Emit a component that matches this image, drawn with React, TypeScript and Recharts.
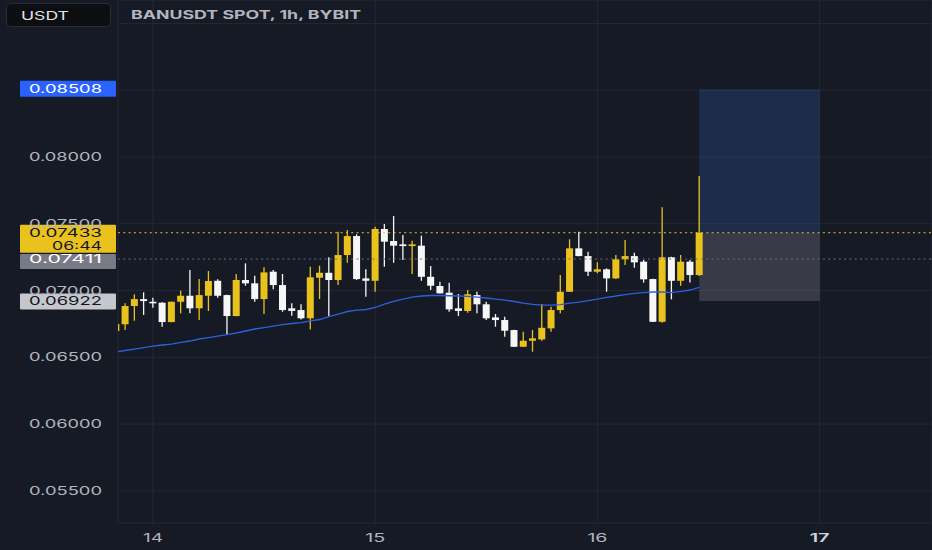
import {
  ComposedChart,
  Bar,
  Line,
  XAxis,
  YAxis,
  CartesianGrid,
  ReferenceLine,
  ReferenceArea,
} from "recharts";

// hours counted from the 14th 00:00 (1h candles)
const hours = [
  -4, -3, -2, -1, 0, 1, 2, 3, 4, 5, 6, 7, 8, 9, 10, 11, 12, 13, 14, 15, 16, 17,
  18, 19, 20, 21, 22, 23, 24, 25, 26, 27, 28, 29, 30, 31, 32, 33, 34, 35, 36,
  37, 38, 39, 40, 41, 42, 43, 44, 45, 46, 47, 48, 49, 50, 51, 52, 53, 54, 55,
  56, 57, 58, 59,
];
const opens = [
  0.06697, 0.06747, 0.06884, 0.06936, 0.06916, 0.06909, 0.06764, 0.06916,
  0.06961, 0.06867, 0.06961, 0.07073, 0.06966, 0.06809, 0.07079, 0.07054,
  0.06936, 0.07141, 0.07041, 0.06867, 0.06854, 0.06792, 0.07096, 0.07133,
  0.07079, 0.07266, 0.07408, 0.07091, 0.07073, 0.07461, 0.07371, 0.07346,
  0.07333, 0.07336, 0.07103, 0.07034, 0.06984, 0.06867, 0.06847, 0.06966,
  0.06897, 0.06799, 0.06779, 0.06704, 0.06579, 0.06624, 0.06634, 0.06717,
  0.06854, 0.06991, 0.07316, 0.07258, 0.07141, 0.07159, 0.07091, 0.07234,
  0.07258, 0.07216, 0.07086, 0.06766, 0.07249, 0.07073, 0.07216, 0.07116,
];
const highs = [
  0.06752, 0.06904, 0.06972, 0.06987, 0.06946, 0.06912, 0.06918, 0.06999,
  0.07154, 0.07086, 0.07146, 0.07084, 0.06968, 0.07124, 0.07204, 0.07111,
  0.07174, 0.07154, 0.07124, 0.06904, 0.06897, 0.07179, 0.07186, 0.07249,
  0.07441, 0.07453, 0.07421, 0.07159, 0.07478, 0.07498, 0.07558, 0.07416,
  0.07373, 0.07411, 0.07184, 0.07066, 0.07059, 0.06974, 0.07004, 0.06991,
  0.06916, 0.06824, 0.06804, 0.06706, 0.06691, 0.06704, 0.06899, 0.06879,
  0.07116, 0.07384, 0.07441, 0.07291, 0.07211, 0.07166, 0.07266, 0.07378,
  0.07283, 0.07229, 0.07088, 0.07623, 0.07253, 0.07266, 0.07229, 0.07858,
];
const lows = [
  0.06694, 0.06704, 0.06774, 0.06817, 0.06871, 0.06729, 0.06762, 0.06829,
  0.06829, 0.06779, 0.06847, 0.06946, 0.06672, 0.06807, 0.07036, 0.06916,
  0.06824, 0.07009, 0.06841, 0.06811, 0.06784, 0.06709, 0.06936, 0.06809,
  0.07041, 0.07208, 0.07079, 0.06954, 0.06991, 0.07178, 0.07208, 0.07229,
  0.07124, 0.07073, 0.07004, 0.06977, 0.06841, 0.06809, 0.06834, 0.06829,
  0.06779, 0.06729, 0.06654, 0.06577, 0.06577, 0.06542, 0.06624, 0.06691,
  0.06829, 0.06989, 0.07256, 0.07109, 0.07129, 0.06991, 0.07086, 0.07191,
  0.07171, 0.07059, 0.06764, 0.06759, 0.06934, 0.07036, 0.07061, 0.07109,
];
const closes = [
  0.06749, 0.06884, 0.06936, 0.06921, 0.06904, 0.06764, 0.06916, 0.06961,
  0.06867, 0.06966, 0.07071, 0.06961, 0.06809, 0.07079, 0.07054, 0.06936,
  0.07136, 0.07041, 0.06854, 0.06847, 0.06792, 0.07099, 0.07133, 0.07079,
  0.07266, 0.07408, 0.07086, 0.07073, 0.07461, 0.07366, 0.07336, 0.07333,
  0.07346, 0.07103, 0.07036, 0.06979, 0.06859, 0.06847, 0.06972, 0.06897,
  0.06792, 0.06779, 0.06699, 0.06579, 0.06624, 0.06642, 0.06721, 0.06854,
  0.06991, 0.07316, 0.07258, 0.07141, 0.07159, 0.07091, 0.07234, 0.07258,
  0.07211, 0.07084, 0.06766, 0.07249, 0.07073, 0.07216, 0.07116, 0.07433,
];
const emaValues = [
  0.0654, 0.06551, 0.06562, 0.06573, 0.06584, 0.06592, 0.06599, 0.06611,
  0.06622, 0.06637, 0.06648, 0.06659, 0.0667, 0.06682, 0.06697, 0.06712,
  0.06723, 0.06734, 0.06745, 0.06753, 0.0676, 0.06772, 0.06783, 0.06805,
  0.06824, 0.06843, 0.06854, 0.06858, 0.06873, 0.06899, 0.06918, 0.06936,
  0.06951, 0.06959, 0.06963, 0.06963, 0.06961, 0.06959, 0.06957, 0.06951,
  0.06944, 0.06936, 0.06929, 0.06918, 0.06906, 0.06897, 0.06891, 0.06891,
  0.06895, 0.06906, 0.06914, 0.06925, 0.06936, 0.06948, 0.06959, 0.06969,
  0.06978, 0.06985, 0.06989, 0.06989, 0.06985, 0.06993, 0.07004, 0.07023,
];

const dayTicks = [0, 24, 48, 72];
const dayLabels = ["14", "15", "16", "17"];
const priceTicks = [0.055, 0.06, 0.065, 0.07, 0.075, 0.08, 0.085, 0.09];
const hiddenPriceTicks = [0.085, 0.09];

// long position tool + price marks
const entryPrice = 0.07433;
const targetPrice = 0.08508;
const stopPrice = 0.06922;
const positionStart = 59;
const positionEnd = 72;
const markLine = 0.07236;
const markLabel = "0.07411";
const countdown = "06:44";

const BG = "#161a25";
const GRID = "#242833";
const TEXT = "#b2b5be";
const YELLOW = "#e9c21d";
const WHITE = "#f7f7f7";
const FONT = "Inter, Roboto, sans-serif";

const data = hours.map((h, i) => ({
  hour: h,
  open: opens[i],
  high: highs[i],
  low: lows[i],
  close: closes[i],
  ema: emaValues[i],
}));

const Candle = (props: any) => {
  const { x, y, width, height, payload } = props;
  const { open, close, high, low } = payload;
  const color = close >= open ? YELLOW : WHITE;
  const top = Math.min(y, y + height);
  const h = Math.abs(height);
  const toY = (v: number) => top + ((high - v) / (high - low)) * h;
  const cx = x + width / 2;
  const bTop = toY(Math.max(open, close));
  const bBot = toY(Math.min(open, close));
  return (
    <g>
      <line x1={cx} x2={cx} y1={top} y2={top + h} stroke={color} strokeWidth={1.3} />
      <rect x={x} y={bTop} width={width} height={Math.max(bBot - bTop, 1.6)} fill={color} />
    </g>
  );
};

const PriceTick = (props: any) => {
  const { y, payload } = props;
  if (hiddenPriceTicks.includes(payload.value)) return <g />;
  return (
    <text
      x={29}
      y={y}
      dominantBaseline="central"
      fill={TEXT}
      fontSize={11.5}
      fontFamily={FONT}
      textLength={73}
      lengthAdjust="spacingAndGlyphs"
    >
      {payload.value.toFixed(5)}
    </text>
  );
};

const DayTick = (props: any) => {
  const { x, payload, index } = props;
  const last = index === dayLabels.length - 1;
  return (
    <text
      x={x}
      y={538}
      textAnchor="middle"
      dominantBaseline="central"
      fill={last ? "#d1d4dc" : TEXT}
      fontWeight={last ? 600 : 400}
      fontSize={11.5}
      fontFamily={FONT}
      textLength={20}
      lengthAdjust="spacingAndGlyphs"
    >
      {dayLabels[dayTicks.indexOf(payload.value)]}
    </text>
  );
};

const tag = (text: string, bg: string, fg: string, up: number, down: number, extra?: string) =>
  (props: any) => {
    const vy = props.viewBox ? props.viewBox.y : 0;
    return (
      <g>
        <rect x={20} y={vy - up} width={96} height={up + down} fill={bg} rx={1} />
        <text
          x={29}
          y={vy}
          dominantBaseline="central"
          fill={fg}
          fontSize={11.5}
          fontFamily={FONT}
          textLength={73}
          lengthAdjust="spacingAndGlyphs"
        >
          {text}
        </text>
        {extra ? (
          <text
            x={52}
            y={vy + 13}
            dominantBaseline="central"
            fill={fg}
            fontSize={11.5}
            fontFamily={FONT}
            textLength={50}
            lengthAdjust="spacingAndGlyphs"
          >
            {extra}
          </text>
        ) : null}
      </g>
    );
  };

export default function App() {
  return (
    <div
      style={{
        position: "fixed",
        left: 0,
        top: 0,
        width: 932,
        height: 550,
        background: BG,
        overflow: "hidden",
      }}
    >
      <ComposedChart width={932} height={550} data={data} margin={{ top: 0, right: 0, bottom: 0, left: 0 }}>
        <CartesianGrid stroke={GRID} strokeWidth={1} />
        <XAxis
          dataKey="hour"
          type="number"
          domain={[-3.78, 84.13]}
          allowDataOverflow
          ticks={dayTicks}
          height={27}
          axisLine={false}
          tickLine={false}
          tick={DayTick}
        />
        <YAxis
          type="number"
          domain={[0.05259, 0.09176]}
          allowDataOverflow
          ticks={priceTicks}
          width={118}
          axisLine={false}
          tickLine={false}
          tick={PriceTick}
        />
        <ReferenceArea
          x1={positionStart}
          x2={positionEnd}
          y1={entryPrice}
          y2={targetPrice}
          fill="#3a6fd8"
          fillOpacity={0.22}
          stroke="none"
        />
        <ReferenceArea
          x1={positionStart}
          x2={positionEnd}
          y1={stopPrice}
          y2={entryPrice}
          fill="#9598a1"
          fillOpacity={0.27}
          stroke="none"
        />
        <Line
          dataKey="ema"
          type="linear"
          stroke="#2d5fdc"
          strokeWidth={1.3}
          dot={false}
          isAnimationActive={false}
        />
        <Bar
          dataKey={(d: any) => [d.low, d.high]}
          barSize={7}
          shape={Candle}
          isAnimationActive={false}
        />
        <ReferenceLine
          y={entryPrice}
          stroke={YELLOW}
          strokeDasharray="2 3.3"
          zIndex={1500}
          label={tag(entryPrice.toFixed(5), YELLOW, "#131722", 8, 20, countdown)}
        />
        <ReferenceLine
          y={markLine}
          stroke="#6b6f7a"
          strokeDasharray="2 3.3"
          zIndex={1500}
          label={tag(markLabel, "#787b86", "#ffffff", 5, 10)}
        />
        <ReferenceLine
          y={targetPrice}
          stroke="none"
          zIndex={1500}
          label={tag(targetPrice.toFixed(5), "#2962ff", "#ffffff", 8.5, 7.5)}
        />
        <ReferenceLine
          y={stopPrice}
          stroke="none"
          zIndex={1500}
          label={tag(stopPrice.toFixed(5), "#c5c7cd", "#131722", 7.5, 8.5)}
        />
      </ComposedChart>
      <svg width={932} height={40} style={{ position: "absolute", left: 0, top: 0 }}>
        <rect x={6.5} y={3.5} width={104} height={23} rx={4} fill="#0d0e11" stroke="#2a2d35" />
        <text
          x={21}
          y={15.5}
          dominantBaseline="central"
          fill="#e0e3eb"
          fontSize={11.5}
          fontFamily={FONT}
          textLength={48}
          lengthAdjust="spacingAndGlyphs"
        >
          USDT
        </text>
        <text
          x={131}
          y={14.5}
          dominantBaseline="central"
          fill={TEXT}
          fontSize={12}
          fontWeight={700}
          fontFamily={FONT}
          textLength={230}
          lengthAdjust="spacingAndGlyphs"
        >
          BANUSDT SPOT, 1h, BYBIT
        </text>
      </svg>
    </div>
  );
}
